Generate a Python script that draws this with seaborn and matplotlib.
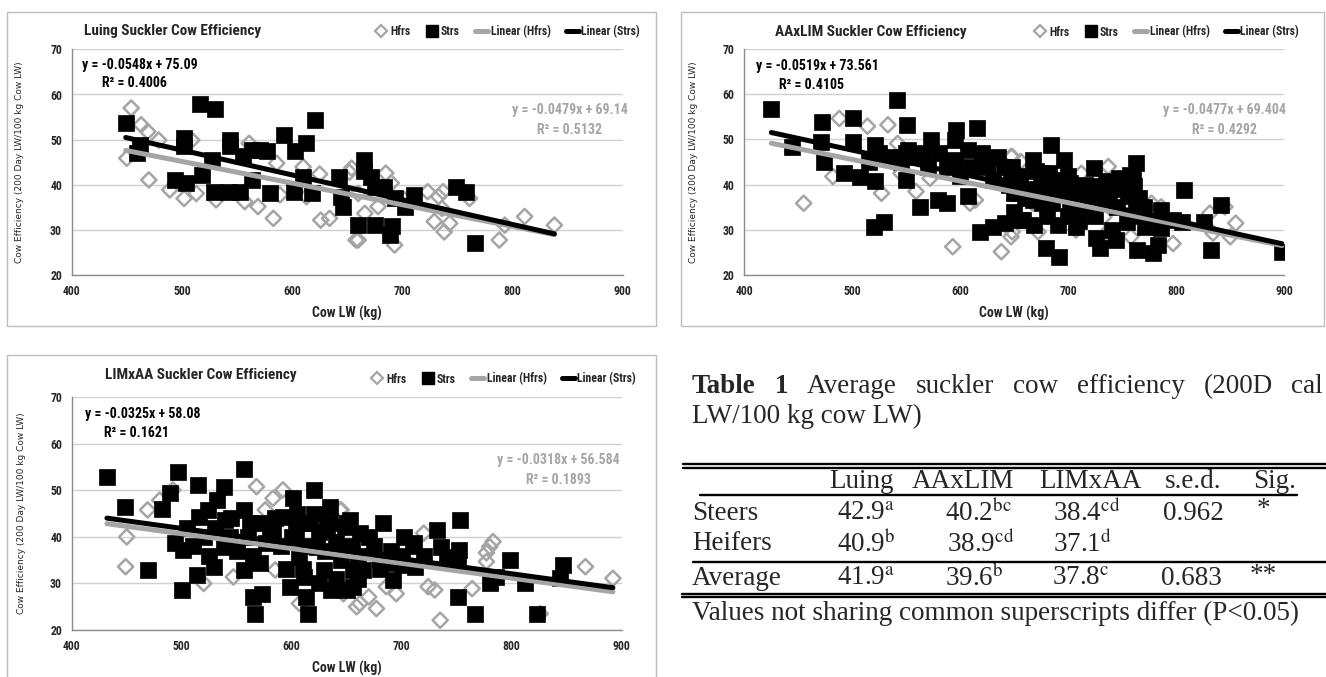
import matplotlib
matplotlib.use("Agg")
import matplotlib.pyplot as plt
import matplotlib.font_manager as fm
from matplotlib.lines import Line2D
from matplotlib.patches import Rectangle
import numpy as np
import pandas as pd
import seaborn as sns

# ---------------- data ----------------
luing_strs_x = [449, 462, 459, 502, 502, 494, 504, 516, 530, 518, 527, 529, 542, 553, 544, 544, 555, 564, 564,
                571, 577, 580, 593, 603, 613, 621, 610, 602, 618, 643, 644, 646, 665, 665, 672, 675, 683, 693,
                702, 711, 660, 675, 689, 691, 749, 758, 766]
luing_strs_y = [53.8, 48.8, 47.0, 50.3, 48.5, 41.1, 40.4, 57.8, 56.9, 42.2, 45.5, 38.5, 38.5, 38.5, 49.9, 48.5,
                46.3, 41.1, 47.7, 47.7, 47.4, 38.2, 51.0, 47.4, 49.2, 54.4, 41.8, 38.5, 38.2, 41.8, 37.4, 35.2,
                45.5, 43.0, 41.8, 39.6, 39.6, 37.0, 35.2, 37.8, 31.1, 31.1, 28.9, 30.8, 39.6, 38.5, 27.1]
luing_hfrs_x = [454, 450, 463, 469, 479, 470, 489, 502, 513, 509, 531, 557, 569, 583, 561, 586, 589, 610, 613,
                625, 626, 634, 652, 658, 654, 660, 666, 660, 678, 685, 690, 693, 702, 723, 729, 737, 736, 738,
                743, 733, 761, 788, 793, 811, 838]
luing_hfrs_y = [57.0, 45.9, 53.3, 51.8, 49.9, 41.1, 38.9, 37.0, 38.1, 49.9, 36.7, 36.3, 35.2, 32.6, 49.2, 44.8,
                37.8, 44.0, 37.4, 42.4, 32.2, 32.6, 42.8, 27.8, 43.7, 38.1, 33.7, 27.8, 35.2, 42.6, 40.4, 26.7,
                36.7, 38.5, 31.9, 38.5, 34.8, 29.6, 31.5, 37.4, 37.0, 27.8, 31.1, 33.0, 31.1]

aaxlim_strs_x = [425, 444, 472, 471, 474, 492, 501, 501, 507, 521, 521, 520, 529, 531, 541, 551, 550, 552, 563,
                 565, 573, 579, 588, 596, 595, 595, 588, 607, 615, 607, 618, 630, 641, 625, 635, 647, 653, 656,
                 648, 648, 667, 658, 668, 679, 691, 684, 696, 682, 695, 702, 707, 707, 719, 724, 724, 726, 729,
                 744, 735, 747, 757, 763, 761, 754, 764, 771, 778, 783, 786, 786, 797, 805, 807, 826, 832, 841,
                 898, 650, 676, 688, 716, 738, 757, 763, 676, 667, 702,
                 640, 645, 655, 660, 665, 670, 675, 680, 685, 690, 695, 700, 705, 710, 715, 720, 725, 730, 735,
                 740, 745, 750, 755, 760, 765, 770, 630, 625, 620, 610, 600, 590, 580, 570, 560, 550, 545, 535,
                 525, 515, 680, 700, 710, 740, 760, 650, 690]
aaxlim_strs_y = [56.8, 48.4, 53.9, 49.5, 45.1, 42.5, 54.6, 49.5, 41.8, 48.8, 40.7, 30.7, 31.8, 45.8, 58.7, 53.2,
                 41.0, 47.6, 35.1, 46.9, 49.9, 36.6, 35.9, 52.1, 49.9, 45.4, 44.0, 47.6, 52.4, 37.4, 29.6, 30.7,
                 31.5, 44.0, 46.2, 43.2, 38.1, 32.2, 44.0, 41.0, 45.4, 32.2, 31.1, 26.0, 24.1, 48.8, 45.4, 42.5,
                 40.3, 36.6, 30.7, 34.4, 36.6, 43.6, 39.6, 28.2, 26.0, 27.8, 40.7, 41.5, 42.2, 44.7, 39.6, 31.8,
                 25.6, 30.7, 24.9, 26.7, 30.4, 34.4, 32.2, 31.8, 38.8, 31.8, 25.6, 35.5, 25.2, 38.1, 42.5, 39.6,
                 38.1, 37.4, 37.4, 35.9, 35.9, 36.6, 40.3,
                 44.0, 40.0, 42.0, 37.0, 39.0, 43.0, 40.0, 38.0, 36.0, 41.0, 38.0, 42.0, 39.0, 37.0, 40.0, 35.0,
                 33.0, 38.0, 36.0, 39.0, 35.0, 40.0, 38.0, 42.0, 37.0, 35.0, 41.0, 45.0, 47.0, 44.0, 42.0, 45.0,
                 47.0, 44.0, 46.0, 47.0, 45.0, 46.0, 47.0, 45.0, 33.0, 33.0, 32.0, 30.0, 33.0, 34.0, 31.0]
aaxlim_hfrs_x = [455, 488, 482, 514, 533, 527, 542, 545, 559, 572, 593, 609, 614, 638, 647, 647, 656, 648, 667,
                 672, 707, 712, 733, 735, 737, 747, 758, 777, 778, 786, 797, 831, 834, 850, 855, 845, 648]
aaxlim_hfrs_y = [35.9, 54.6, 41.8, 52.9, 53.2, 38.1, 49.1, 42.5, 38.5, 41.4, 26.3, 35.9, 36.6, 25.2, 28.5, 46.2,
                 45.1, 46.2, 35.9, 29.6, 30.0, 42.5, 32.9, 29.3, 44.0, 36.6, 28.5, 35.9, 33.7, 35.1, 27.0, 33.7,
                 29.3, 28.5, 31.5, 35.1, 29.6]

limxaa_strs_x = [432, 448, 469, 482, 489, 497, 494, 500, 501, 514, 515, 516, 524, 529, 538, 532, 538, 539, 544,
                 557, 557, 557, 562, 565, 567, 573, 571, 577, 583, 592, 598, 601, 604, 607, 611, 615, 613, 620,
                 617, 623, 629, 635, 636, 632, 650, 653, 656, 656, 648, 653, 650, 662, 665, 683, 686, 702, 692,
                 711, 712, 732, 741, 753, 752, 751, 751, 767, 780, 786, 798, 812, 823, 847, 844, 736,
                 510, 520, 530, 540, 550, 560, 570, 580, 590, 600, 605, 610, 615, 620, 625, 630, 635, 640, 645,
                 655, 660, 670, 675, 680, 690, 700, 710, 720, 505, 525, 545, 565, 585, 595, 610, 625, 640, 660,
                 680, 700]
limxaa_strs_y = [52.8, 46.5, 32.9, 46.1, 49.4, 54.0, 38.6, 28.6, 37.2, 31.8, 51.1, 44.3, 45.8, 33.6, 50.8, 47.9,
                 37.9, 43.6, 40.0, 54.7, 45.8, 32.9, 42.9, 27.1, 23.5, 27.8, 34.3, 38.6, 40.8, 44.3, 29.3, 48.3,
                 41.5, 35.7, 31.4, 23.5, 27.1, 50.1, 42.9, 37.9, 32.9, 46.5, 28.6, 41.5, 42.9, 37.9, 29.3, 32.9,
                 42.2, 43.6, 28.6, 40.8, 32.9, 42.9, 34.3, 40.0, 30.7, 38.6, 33.6, 41.5, 35.7, 43.6, 37.2, 35.0,
                 27.1, 23.5, 30.0, 31.4, 35.0, 30.0, 23.5, 33.9, 31.1, 37.9,
                 38.0, 40.0, 42.0, 39.0, 37.0, 40.0, 43.0, 41.0, 38.0, 40.0, 45.0, 43.0, 38.0, 45.0, 41.0, 37.0,
                 43.0, 39.0, 35.0, 38.0, 36.0, 40.0, 38.0, 35.0, 37.0, 34.0, 38.0, 36.0, 42.0, 36.0, 44.0, 36.0,
                 44.0, 33.0, 33.0, 30.0, 31.0, 31.0, 33.0, 36.0]
limxaa_hfrs_x = [450, 449, 469, 480, 492, 520, 547, 568, 576, 583, 592, 585, 607, 641, 647, 644, 659, 645, 647,
                 662, 670, 677, 686, 695, 720, 724, 730, 735, 764, 777, 780, 783, 777, 867, 892, 826]
limxaa_hfrs_y = [40.0, 33.6, 45.8, 47.9, 50.1, 30.0, 31.4, 50.8, 45.8, 48.3, 50.1, 32.9, 25.7, 28.6, 35.0, 45.8,
                 25.0, 45.8, 27.8, 25.7, 27.1, 24.6, 29.3, 27.8, 40.8, 29.3, 28.6, 22.1, 28.9, 34.7, 37.9, 39.0,
                 36.6, 33.6, 31.1, 23.5]

titles = ["Luing Suckler Cow Efficiency", "AAxLIM Suckler Cow Efficiency", "LIMxAA Suckler Cow Efficiency"]
strs_slope = [-0.0548, -0.0519, -0.0325]
strs_icept = [75.09, 73.561, 58.08]
strs_r2 = ["0.4006", "0.4105", "0.1621"]
hfrs_slope = [-0.0479, -0.0477, -0.0318]
hfrs_icept = [69.14, 69.404, 56.584]
hfrs_r2 = ["0.5132", "0.4292", "0.1893"]
strs_eq = ["y = -0.0548x + 75.09", "y = -0.0519x + 73.561", "y = -0.0325x + 58.08"]
hfrs_eq = ["y = -0.0479x + 69.14", "y = -0.0477x + 69.404", "y = -0.0318x + 56.584"]

table_title_words = ["Table", "1", "Average", "suckler", "cow", "efficiency", "(200D", "cal"]
table_title_line2 = "LW/100 kg cow LW)"
tbl_cols = ["Luing", "AAxLIM", "LIMxAA", "s.e.d.", "Sig."]
tbl_rows = ["Steers", "Heifers", "Average"]
tbl_vals = [["42.9", "40.2", "38.4"], ["40.9", "38.9", "37.1"], ["41.9", "39.6", "37.8"]]
tbl_sups = [["a", "bc", "cd"], ["b", "cd", "d"], ["a", "b", "c"]]
tbl_sed = ["0.962", "", "0.683"]
tbl_sig = ["*", "", "**"]
tbl_note = "Values not sharing common superscripts differ (P<0.05)"

# ---------------- fonts ----------------
sns.set_theme(style="white")
avail = {f.name for f in fm.fontManager.ttflist}
narrow = next((f for f in ["Liberation Sans Narrow", "Roboto Condensed", "Open Sans Condensed", "Lato"] if f in avail), "DejaVu Sans")
serif = "Liberation Serif" if "Liberation Serif" in avail else "DejaVu Serif"
plt.rcParams["font.family"] = [narrow, "DejaVu Sans"]
plt.rcParams["mathtext.fontset"] = "stix"

GRAY = "#a5a5a5"
W, H = 1326, 677
fig = plt.figure(figsize=(W / 100, H / 100), dpi=100)
fig.patch.set_facecolor("white")

def fx(px):
    return px / W

def fy(py):
    return 1 - py / H

# frames
for (x0, y0, x1, y1) in [(7, 12, 656, 326), (681, 12, 1324, 326), (7, 355, 656, 690)]:
    fig.patches.append(Rectangle((fx(x0), fy(y1)), fx(x1 - x0), (y1 - y0) / H, transform=fig.transFigure,
                                 fill=False, edgecolor="#bdbdbd", lw=1.0))

axes_px = [(71.7, 49.3, 622.7, 275.3), (744.3, 48.7, 1284.3, 275.3), (71.7, 397.3, 621.7, 630.0)]
title_px = [(173, 30.5), (871, 32), (201, 375)]
legend_px = [(640, 31.5), (1299, 32), (636, 379)]
ylab_x = [20, 693, 22]
xlab_y = [313, 313, 668]
strs_eq_pos = [(409, 66.5, 457, 62.5), (411, 66.2, 462, 62.0), (412, 66.4, 459, 62.3)]
hfrs_eq_pos = [(852, 56.6, 852, 52.1), (845, 56.5, 845, 52.1), (842, 56.6, 843, 52.3)]

datasets = [
    (luing_strs_x, luing_strs_y, luing_hfrs_x, luing_hfrs_y),
    (aaxlim_strs_x, aaxlim_strs_y, aaxlim_hfrs_x, aaxlim_hfrs_y),
    (limxaa_strs_x, limxaa_strs_y, limxaa_hfrs_x, limxaa_hfrs_y),
]

for i, (sx, sy, hx, hy) in enumerate(datasets):
    x0, y0, x1, y1 = axes_px[i]
    ax = fig.add_axes([fx(x0), fy(y1), fx(x1 - x0), (y1 - y0) / H])
    ax.set_facecolor("none")
    ax.set_xlim(400, 900)
    ax.set_ylim(20, 70)
    ax.set_yticks([20, 30, 40, 50, 60, 70])
    ax.set_xticks([400, 500, 600, 700, 800, 900])
    ax.grid(axis="y", color="#d0d0d0", lw=1.0)
    ax.grid(axis="x", visible=False)
    ax.set_axisbelow(True)
    for s in ["top", "right"]:
        ax.spines[s].set_visible(False)
    for s in ["left", "bottom"]:
        ax.spines[s].set_color("#8c8c8c")
        ax.spines[s].set_linewidth(1.0)
    ax.tick_params(axis="both", which="both", direction="out", length=4, width=1, color="#8c8c8c",
                   labelsize=8.5, pad=3)
    for lab in ax.get_xticklabels() + ax.get_yticklabels():
        lab.set_fontweight("bold")

    hdf = pd.DataFrame({"x": hx, "y": hy})
    sdf = pd.DataFrame({"x": sx, "y": sy})
    sns.scatterplot(data=hdf, x="x", y="y", ax=ax, marker="D", s=60, facecolor="none",
                    edgecolor=GRAY, linewidth=1.8, zorder=3)
    sns.scatterplot(data=sdf, x="x", y="y", ax=ax, marker="s", s=125, color="black",
                    edgecolor="black", linewidth=0.5, zorder=4)

    allx = np.array(list(sx) + list(hx))
    xr = np.array([allx.min(), allx.max()])
    sns.lineplot(x=xr, y=hfrs_slope[i] * xr + hfrs_icept[i], ax=ax, color=GRAY, lw=3.6, zorder=5)
    sns.lineplot(x=xr, y=strs_slope[i] * xr + strs_icept[i], ax=ax, color="black", lw=3.6, zorder=6)

    ex, ey, rx, ry = strs_eq_pos[i]
    ax.text(ex, ey, strs_eq[i], ha="left", va="center", fontsize=10, fontweight="bold", color="black", zorder=7)
    ax.text(rx, ry, "R² = " + strs_r2[i], ha="center", va="center", fontsize=10, fontweight="bold", color="black", zorder=7)
    ex, ey, rx, ry = hfrs_eq_pos[i]
    ax.text(ex, ey, hfrs_eq[i], ha="center", va="center", fontsize=10, fontweight="bold", color=GRAY, zorder=7)
    ax.text(rx, ry, "R² = " + hfrs_r2[i], ha="center", va="center", fontsize=10, fontweight="bold", color=GRAY, zorder=7)

    ax.set_xlabel("Cow LW (kg)", fontsize=10, fontweight="bold")
    ax.xaxis.set_label_coords(0.5, (y1 - xlab_y[i]) / (y1 - y0))
    ax.xaxis.label.set_va("center")
    ax.set_ylabel("Cow Efficiency (200 Day LW/100 kg Cow LW)", fontsize=6.5, family="DejaVu Sans")
    ax.yaxis.set_label_coords((ylab_x[i] - x0) / (x1 - x0), 0.5)
    ax.yaxis.label.set_va("center")

    tx, ty = title_px[i]
    fig.text(fx(tx), fy(ty), titles[i], ha="center", va="center", fontsize=11, fontweight="bold")

    handles = [
        Line2D([], [], ls="none", marker="D", ms=6, mfc="none", mec=GRAY, mew=1.6),
        Line2D([], [], ls="none", marker="s", ms=9, color="black"),
        Line2D([], [], color=GRAY, lw=3.6),
        Line2D([], [], color="black", lw=3.6),
    ]
    lx, ly = legend_px[i]
    leg = ax.legend(handles, ["Hfrs", "Strs", "Linear (Hfrs)", "Linear (Strs)"], ncol=4, frameon=False,
                    loc="center right", bbox_to_anchor=(fx(lx), fy(ly)), bbox_transform=fig.transFigure,
                    prop={"family": narrow, "weight": "bold", "size": 8.5}, handlelength=1.1,
                    handletextpad=0.2, columnspacing=1.3, borderpad=0, borderaxespad=0)

# ---------------- table ----------------
TS = 19.5
renderer = fig.canvas.get_renderer()
# justified first caption line between x=692 and x=1323
word_texts = []
for w in table_title_words:
    t = fig.text(0, fy(386.7), w, ha="left", va="center", family=serif, fontsize=TS,
                 fontweight="bold" if w in ("Table", "1") else "normal")
    word_texts.append(t)
widths = [t.get_window_extent(renderer).width for t in word_texts]
left_px, right_px = 692, 1323
gap = (right_px - left_px - sum(widths)) / (len(widths) - 1)
cur = left_px
for t, wd in zip(word_texts, widths):
    t.set_x(fx(cur))
    cur += wd + gap
fig.text(fx(692), fy(416.7), table_title_line2, ha="left", va="center", family=serif, fontsize=TS)

def hline(y, xa, xb, lw=1.7):
    fig.add_artist(Line2D([fx(xa), fx(xb)], [fy(y), fy(y)], transform=fig.transFigure, color="black", lw=lw))

hline(464.3, 683, 1326)
hline(467.7, 683, 1326)
hline(495, 700, 1297)
hline(562.3, 693, 1326)
hline(594, 682, 1326)
hline(597.3, 682, 1326)

col_cx = [862, 963, 1091, 1193, 1275]
for c, xp in zip(tbl_cols, col_cx):
    fig.text(fx(xp), fy(482), c, ha="center", va="center", family=serif, fontsize=TS)

row_y = [513, 544, 578.5]
val_left = [[836.7, 945, 1053], [837, 946.7, 1053], [837, 945, 1052]]
sed_cx = [1193.5, None, 1191.5]
sig_cx = [1263, None, 1263]
for r, lab in enumerate(tbl_rows):
    fig.text(fx(692), fy(row_y[r]), lab, ha="left", va="center", family=serif, fontsize=TS)
    for c in range(3):
        fig.text(fx(val_left[r][c]), fy(row_y[r]), tbl_vals[r][c] + r"$^{\mathrm{" + tbl_sups[r][c] + "}}$",
                 ha="left", va="center", family=serif, fontsize=TS)
    if tbl_sed[r]:
        fig.text(fx(sed_cx[r]), fy(row_y[r]), tbl_sed[r], ha="center", va="center", family=serif, fontsize=TS)
        fig.text(fx(sig_cx[r]), fy(row_y[r] - 3), tbl_sig[r], ha="center", va="center", family=serif, fontsize=TS)

fig.text(fx(692), fy(613), tbl_note, ha="left", va="center", family=serif, fontsize=TS)

fig.savefig("out.png", dpi=100, facecolor="white")
